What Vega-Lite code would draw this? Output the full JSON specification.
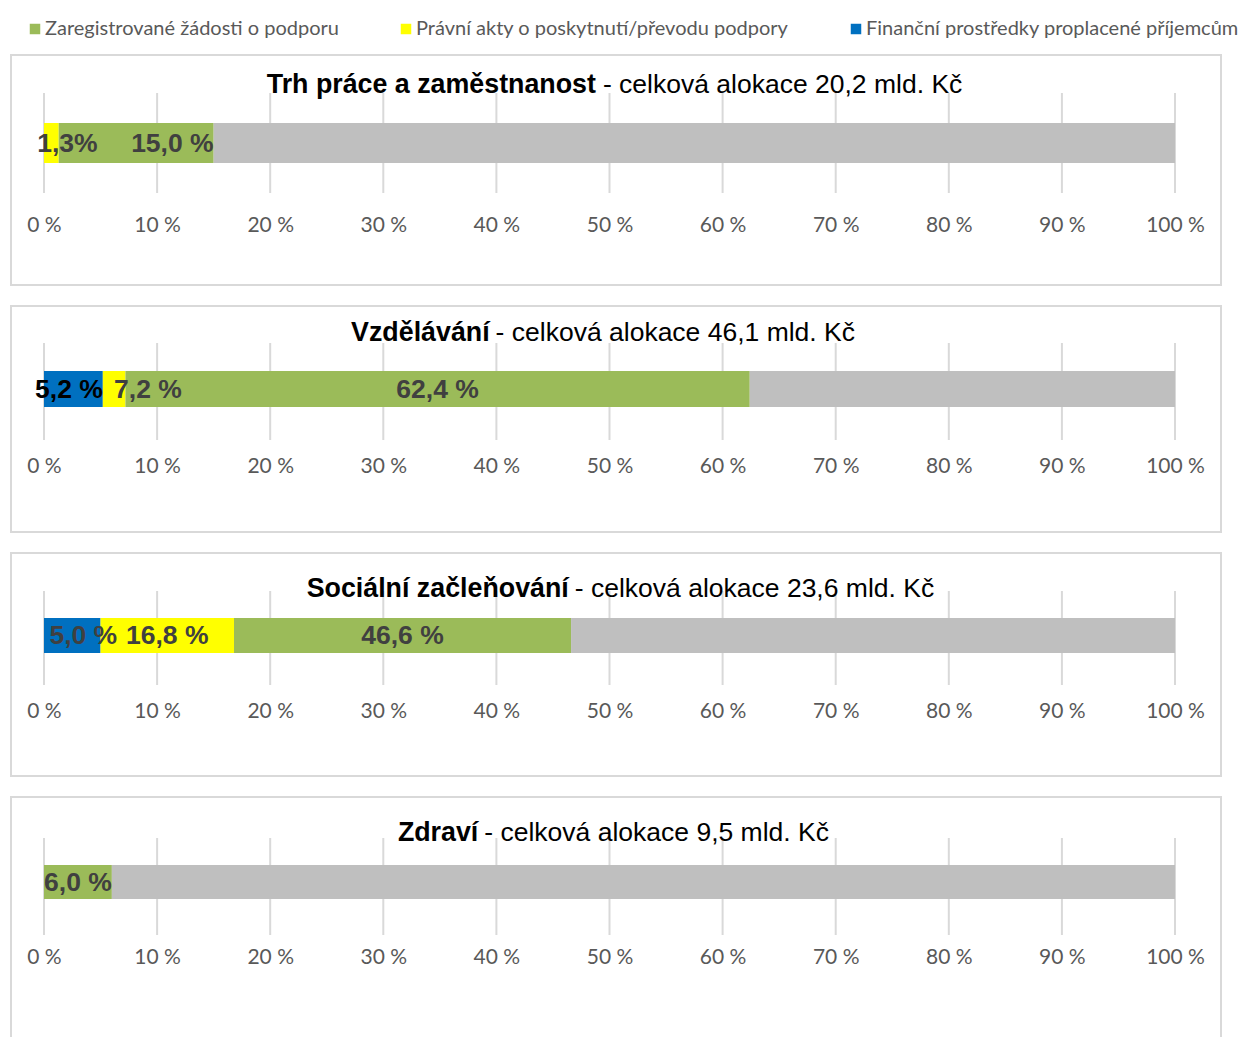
{
  "$schema": "https://vega.github.io/schema/vega-lite/v6.json",
  "padding": {"left": 10, "top": 19, "right": 0, "bottom": 0},
  "config": {
    "view": {"stroke": "#D9D9D9", "strokeWidth": 2},
    "font": "Liberation Sans",
    "concat": {"spacing": 19},
    "axisX": {"labelExpr": "datum.value + ' %'", "domain": false, "ticks": false, "grid": false, "labelFont": "Lato", "labelFontSize": 21, "labelColor": "#595959", "labelPadding": 0, "title": null}
  },
  "datasets": {
    "ticks": [{"t": 0}, {"t": 10}, {"t": 20}, {"t": 30}, {"t": 40}, {"t": 50}, {"t": 60}, {"t": 70}, {"t": 80}, {"t": 90}, {"t": 100}],
    "titles": [
      {"panel": 1, "bold": "Trh práce a zaměstnanost", "rest": "- celková alokace 20,2 mld. Kč"},
      {"panel": 2, "bold": "Vzdělávání", "rest": "- celková alokace 46,1 mld. Kč"},
      {"panel": 3, "bold": "Sociální začleňování", "rest": "- celková alokace 23,6 mld. Kč"},
      {"panel": 4, "bold": "Zdraví", "rest": "- celková alokace 9,5 mld. Kč"}
    ],
    "bars": [
      {"panel": 1, "s": "P", "series": "Právní akty o poskytnutí/převodu podpory", "from": 0, "to": 1.3, "label": "1,3%"},
      {"panel": 1, "s": "Z", "series": "Zaregistrované žádosti o podporu", "from": 1.3, "to": 15.0, "label": "15,0 %"},
      {"panel": 1, "s": "R", "series": "Zbývající alokace", "from": 15.0, "to": 100, "label": ""},
      {"panel": 2, "s": "F", "series": "Finanční prostředky proplacené příjemcům", "from": 0, "to": 5.2, "label": "5,2 %"},
      {"panel": 2, "s": "P", "series": "Právní akty o poskytnutí/převodu podpory", "from": 5.2, "to": 7.2, "label": "7,2 %"},
      {"panel": 2, "s": "Z", "series": "Zaregistrované žádosti o podporu", "from": 7.2, "to": 62.4, "label": "62,4 %"},
      {"panel": 2, "s": "R", "series": "Zbývající alokace", "from": 62.4, "to": 100, "label": ""},
      {"panel": 3, "s": "F", "series": "Finanční prostředky proplacené příjemcům", "from": 0, "to": 5.0, "label": "5,0 %"},
      {"panel": 3, "s": "P", "series": "Právní akty o poskytnutí/převodu podpory", "from": 5.0, "to": 16.8, "label": "16,8 %"},
      {"panel": 3, "s": "Z", "series": "Zaregistrované žádosti o podporu", "from": 16.8, "to": 46.6, "label": "46,6 %"},
      {"panel": 3, "s": "R", "series": "Zbývající alokace", "from": 46.6, "to": 100, "label": ""},
      {"panel": 4, "s": "Z", "series": "Zaregistrované žádosti o podporu", "from": 0, "to": 6.0, "label": "6,0 %"},
      {"panel": 4, "s": "R", "series": "Zbývající alokace", "from": 6.0, "to": 100, "label": ""}
    ]
  },
  "resolve": {"scale": {"x": "independent", "y": "independent", "color": "shared"}, "legend": {"color": "shared"}},
  "vconcat": [
    {
      "width": 1210, "height": 230,
      "layer": [
        {"data": {"name": "ticks"}, "mark": {"type": "rule", "stroke": "#D9D9D9", "strokeWidth": 2},
         "encoding": {"x": {"field": "t", "type": "quantitative", "title": null, "scale": {"domain": [-2.918, 104.067], "nice": false, "zero": false}, "axis": {"offset": -71, "values": [0, 10, 20, 30, 40, 50, 60, 70, 80, 90, 100]}},
                      "y": {"datum": 38, "type": "quantitative", "scale": {"domain": [0, 230], "reverse": true, "nice": false, "zero": false}, "axis": null}, "y2": {"datum": 138}}},
        {"data": {"name": "bars"}, "transform": [{"filter": "datum.panel == 1"}], "mark": {"type": "rect"},
         "encoding": {"x": {"field": "from", "type": "quantitative", "title": null}, "x2": {"field": "to"},
                      "y": {"datum": 68, "type": "quantitative"}, "y2": {"datum": 108},
                      "color": {"field": "series", "type": "nominal",
                                "scale": {"domain": ["Zaregistrované žádosti o podporu", "Právní akty o poskytnutí/převodu podpory", "Finanční prostředky proplacené příjemcům", "Zbývající alokace"], "range": ["#9BBB59", "#FFFF00", "#0070C0", "#BFBFBF"]},
                                "legend": {"values": ["Zaregistrované žádosti o podporu", "Právní akty o poskytnutí/převodu podpory", "Finanční prostředky proplacené příjemcům"],
                                           "orient": "none", "legendX": 14, "legendY": -36, "direction": "horizontal", "title": null,
                                           "symbolType": "square", "symbolSize": 110, "symbolStrokeWidth": 0, "symbolOpacity": 1,
                                           "labelFont": "Lato", "labelFontSize": 20, "labelColor": "#595959", "columnPadding": 57, "labelOffset": 0, "labelLimit": 600}}}},
        {"data": {"name": "bars"}, "transform": [{"filter": "datum.panel == 1 && datum.s == 'P'"}, {"calculate": "(datum.from + datum.to) / 2", "as": "mid"}],
         "mark": {"type": "text", "fontWeight": "bold", "fontSize": 26.5, "color": "#404040", "align": "center", "baseline": "middle", "dx": 16},
         "encoding": {"x": {"field": "mid", "type": "quantitative", "title": null}, "y": {"datum": 89, "type": "quantitative"}, "text": {"field": "label"}}},
        {"data": {"name": "bars"}, "transform": [{"filter": "datum.panel == 1 && datum.s == 'Z'"}],
         "mark": {"type": "text", "fontWeight": "bold", "fontSize": 26.5, "color": "#404040", "align": "right", "baseline": "middle"},
         "encoding": {"x": {"field": "to", "type": "quantitative", "title": null}, "y": {"datum": 89, "type": "quantitative"}, "text": {"field": "label"}}},
        {"data": {"name": "titles"}, "transform": [{"filter": "datum.panel == 1"}],
         "mark": {"type": "text", "fontWeight": "bold", "fontSize": 26.8, "color": "#000000", "align": "right", "baseline": "middle"},
         "encoding": {"x": {"datum": 48.8, "type": "quantitative"}, "y": {"datum": 30, "type": "quantitative"}, "text": {"field": "bold"}}},
        {"data": {"name": "titles"}, "transform": [{"filter": "datum.panel == 1"}],
         "mark": {"type": "text", "fontSize": 26.5, "color": "#000000", "align": "left", "baseline": "middle", "dx": 7},
         "encoding": {"x": {"datum": 48.8, "type": "quantitative"}, "y": {"datum": 30, "type": "quantitative"}, "text": {"field": "rest"}}}
      ]
    },
    {
      "width": 1210, "height": 226,
      "layer": [
        {"data": {"name": "ticks"}, "mark": {"type": "rule", "stroke": "#D9D9D9", "strokeWidth": 2},
         "encoding": {"x": {"field": "t", "type": "quantitative", "title": null, "scale": {"domain": [-2.918, 104.067], "nice": false, "zero": false}, "axis": {"offset": -77, "values": [0, 10, 20, 30, 40, 50, 60, 70, 80, 90, 100]}},
                      "y": {"datum": 37, "type": "quantitative", "scale": {"domain": [0, 226], "reverse": true, "nice": false, "zero": false}, "axis": null}, "y2": {"datum": 134}}},
        {"data": {"name": "bars"}, "transform": [{"filter": "datum.panel == 2"}], "mark": {"type": "rect"},
         "encoding": {"x": {"field": "from", "type": "quantitative", "title": null}, "x2": {"field": "to"},
                      "y": {"datum": 65, "type": "quantitative"}, "y2": {"datum": 101},
                      "color": {"field": "series", "type": "nominal"}}},
        {"data": {"name": "bars"}, "transform": [{"filter": "datum.panel == 2 && datum.s == 'F'"}],
         "mark": {"type": "text", "fontWeight": "bold", "fontSize": 26.5, "color": "#000000", "align": "right", "baseline": "middle"},
         "encoding": {"x": {"field": "to", "type": "quantitative", "title": null}, "y": {"datum": 84, "type": "quantitative"}, "text": {"field": "label"}}},
        {"data": {"name": "bars"}, "transform": [{"filter": "datum.panel == 2 && datum.s == 'P'"}, {"calculate": "(datum.from + datum.to) / 2", "as": "mid"}],
         "mark": {"type": "text", "fontWeight": "bold", "fontSize": 26.5, "color": "#404040", "align": "left", "baseline": "middle"},
         "encoding": {"x": {"field": "mid", "type": "quantitative", "title": null}, "y": {"datum": 84, "type": "quantitative"}, "text": {"field": "label"}}},
        {"data": {"name": "bars"}, "transform": [{"filter": "datum.panel == 2 && datum.s == 'Z'"}, {"calculate": "(datum.from + datum.to) / 2", "as": "mid"}],
         "mark": {"type": "text", "fontWeight": "bold", "fontSize": 26.5, "color": "#404040", "align": "center", "baseline": "middle"},
         "encoding": {"x": {"field": "mid", "type": "quantitative", "title": null}, "y": {"datum": 84, "type": "quantitative"}, "text": {"field": "label"}}},
        {"data": {"name": "titles"}, "transform": [{"filter": "datum.panel == 2"}],
         "mark": {"type": "text", "fontWeight": "bold", "fontSize": 26.8, "color": "#000000", "align": "right", "baseline": "middle"},
         "encoding": {"x": {"datum": 39.4, "type": "quantitative"}, "y": {"datum": 27, "type": "quantitative"}, "text": {"field": "bold"}}},
        {"data": {"name": "titles"}, "transform": [{"filter": "datum.panel == 2"}],
         "mark": {"type": "text", "fontSize": 26.5, "color": "#000000", "align": "left", "baseline": "middle", "dx": 6},
         "encoding": {"x": {"datum": 39.4, "type": "quantitative"}, "y": {"datum": 27, "type": "quantitative"}, "text": {"field": "rest"}}}
      ]
    },
    {
      "width": 1210, "height": 223,
      "layer": [
        {"data": {"name": "ticks"}, "mark": {"type": "rule", "stroke": "#D9D9D9", "strokeWidth": 2},
         "encoding": {"x": {"field": "t", "type": "quantitative", "title": null, "scale": {"domain": [-2.918, 104.067], "nice": false, "zero": false}, "axis": {"offset": -76, "values": [0, 10, 20, 30, 40, 50, 60, 70, 80, 90, 100]}},
                      "y": {"datum": 38, "type": "quantitative", "scale": {"domain": [0, 223], "reverse": true, "nice": false, "zero": false}, "axis": null}, "y2": {"datum": 132}}},
        {"data": {"name": "bars"}, "transform": [{"filter": "datum.panel == 3"}], "mark": {"type": "rect"},
         "encoding": {"x": {"field": "from", "type": "quantitative", "title": null}, "x2": {"field": "to"},
                      "y": {"datum": 65, "type": "quantitative"}, "y2": {"datum": 100},
                      "color": {"field": "series", "type": "nominal"}}},
        {"data": {"name": "bars"}, "transform": [{"filter": "datum.panel == 3 && datum.s == 'F'"}, {"calculate": "(datum.from + datum.to) / 2", "as": "mid"}],
         "mark": {"type": "text", "fontWeight": "bold", "fontSize": 26.5, "color": "#404040", "align": "center", "baseline": "middle", "dx": 11},
         "encoding": {"x": {"field": "mid", "type": "quantitative", "title": null}, "y": {"datum": 83, "type": "quantitative"}, "text": {"field": "label"}}},
        {"data": {"name": "bars"}, "transform": [{"filter": "datum.panel == 3 && (datum.s == 'P' || datum.s == 'Z')"}, {"calculate": "(datum.from + datum.to) / 2", "as": "mid"}],
         "mark": {"type": "text", "fontWeight": "bold", "fontSize": 26.5, "color": "#404040", "align": "center", "baseline": "middle"},
         "encoding": {"x": {"field": "mid", "type": "quantitative", "title": null}, "y": {"datum": 83, "type": "quantitative"}, "text": {"field": "label"}}},
        {"data": {"name": "titles"}, "transform": [{"filter": "datum.panel == 3"}],
         "mark": {"type": "text", "fontWeight": "bold", "fontSize": 26.8, "color": "#000000", "align": "right", "baseline": "middle"},
         "encoding": {"x": {"datum": 46.4, "type": "quantitative"}, "y": {"datum": 36, "type": "quantitative"}, "text": {"field": "bold"}}},
        {"data": {"name": "titles"}, "transform": [{"filter": "datum.panel == 3"}],
         "mark": {"type": "text", "fontSize": 26.5, "color": "#000000", "align": "left", "baseline": "middle", "dx": 6},
         "encoding": {"x": {"datum": 46.4, "type": "quantitative"}, "y": {"datum": 36, "type": "quantitative"}, "text": {"field": "rest"}}}
      ]
    },
    {
      "width": 1210, "height": 245,
      "layer": [
        {"data": {"name": "ticks"}, "mark": {"type": "rule", "stroke": "#D9D9D9", "strokeWidth": 2},
         "encoding": {"x": {"field": "t", "type": "quantitative", "title": null, "scale": {"domain": [-2.918, 104.067], "nice": false, "zero": false}, "axis": {"offset": -96, "values": [0, 10, 20, 30, 40, 50, 60, 70, 80, 90, 100]}},
                      "y": {"datum": 41, "type": "quantitative", "scale": {"domain": [0, 245], "reverse": true, "nice": false, "zero": false}, "axis": null}, "y2": {"datum": 138}}},
        {"data": {"name": "bars"}, "transform": [{"filter": "datum.panel == 4"}], "mark": {"type": "rect"},
         "encoding": {"x": {"field": "from", "type": "quantitative", "title": null}, "x2": {"field": "to"},
                      "y": {"datum": 68, "type": "quantitative"}, "y2": {"datum": 102},
                      "color": {"field": "series", "type": "nominal"}}},
        {"data": {"name": "bars"}, "transform": [{"filter": "datum.panel == 4 && datum.s == 'Z'"}, {"calculate": "(datum.from + datum.to) / 2", "as": "mid"}],
         "mark": {"type": "text", "fontWeight": "bold", "fontSize": 26.5, "color": "#404040", "align": "center", "baseline": "middle"},
         "encoding": {"x": {"field": "mid", "type": "quantitative", "title": null}, "y": {"datum": 86, "type": "quantitative"}, "text": {"field": "label"}}},
        {"data": {"name": "titles"}, "transform": [{"filter": "datum.panel == 4"}],
         "mark": {"type": "text", "fontWeight": "bold", "fontSize": 26.8, "color": "#000000", "align": "right", "baseline": "middle"},
         "encoding": {"x": {"datum": 38.4, "type": "quantitative"}, "y": {"datum": 36, "type": "quantitative"}, "text": {"field": "bold"}}},
        {"data": {"name": "titles"}, "transform": [{"filter": "datum.panel == 4"}],
         "mark": {"type": "text", "fontSize": 26.5, "color": "#000000", "align": "left", "baseline": "middle", "dx": 6},
         "encoding": {"x": {"datum": 38.4, "type": "quantitative"}, "y": {"datum": 36, "type": "quantitative"}, "text": {"field": "rest"}}}
      ]
    }
  ]
}
